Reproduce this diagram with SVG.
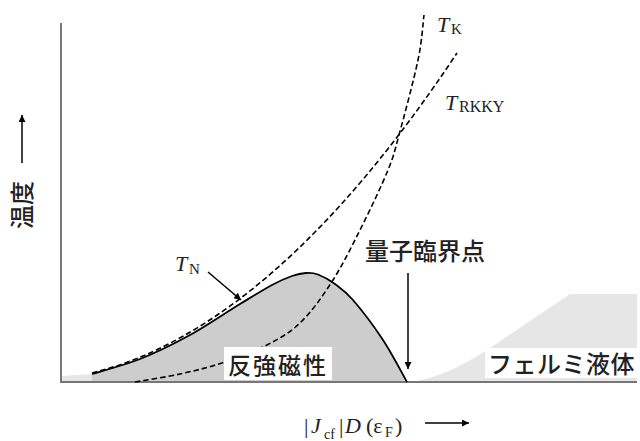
<svg xmlns="http://www.w3.org/2000/svg" width="640" height="441" viewBox="0 0 640 441">
<style>
.axis{stroke:#777;stroke-width:2;fill:none}
.dash{stroke:#000;stroke-width:1.6;fill:none;stroke-dasharray:5.5 3}
.solid{stroke:#000;stroke-width:1.8;fill:none}
.ptr{stroke:#000;stroke-width:1.5;fill:none}
.jp{font-family:"Noto Sans CJK JP","Noto Sans CJK SC",sans-serif;font-weight:500;fill:#222}
.serif{font-family:"Liberation Serif","Times New Roman",serif;fill:#222}
.it{font-style:italic}
</style>
<defs>
<marker id="ah" viewBox="0 0 10 10" refX="10" refY="5" markerUnits="userSpaceOnUse" markerWidth="10" markerHeight="7" orient="auto">
<path d="M0,0 L10,5 L0,10 z" fill="#000"/>
</marker>
</defs>
<rect width="640" height="441" fill="#fff"/>
<g id="regions">
<path id="fermi-left" d="M61,382 L61,376 Q80,375 92,374 L92,382 Z" fill="#e6e6e6"/>
<path id="fermi-right" d="M410,382 Q445,378 490,348 L570,294 L637,294 L637,382 Z" fill="#e6e6e6"/>
<path id="afm-fill" d="M92,382 L92,374 C100,371.5 123.7,365.5 140,359 C156.3,352.5 173.3,344.2 190,335 C206.7,325.8 226.3,312.3 240,304 C253.7,295.7 263.3,289.7 272,285 C280.7,280.3 286.3,278 292,276 C297.7,274 301.7,273.3 306,273 C310.3,272.8 313.2,272.7 318,274.5 C322.8,276.3 329.2,279.75 335,284 C340.8,288.25 345,290.7 353,300 C361,309.3 374,326.3 383,340 C392,353.7 403,375 407,382 Z" fill="#cdcdcd"/>
</g>
<g id="axes">
<line class="axis" x1="61" y1="23" x2="61" y2="382"/>
<line class="axis" x1="60" y1="382" x2="637" y2="382"/>
</g>
<g id="curves">
<path id="TN" class="solid" d="M92,374 C100,371.5 123.7,365.5 140,359 C156.3,352.5 173.3,344.2 190,335 C206.7,325.8 226.3,312.3 240,304 C253.7,295.7 263.3,289.7 272,285 C280.7,280.3 286.3,278 292,276 C297.7,274 301.7,273.3 306,273 C310.3,272.8 313.2,272.7 318,274.5 C322.8,276.3 329.2,279.75 335,284 C340.8,288.25 345,290.7 353,300 C361,309.3 374,326.3 383,340 C392,353.7 403,375 407,382"/>
<path id="TRKKY" class="dash" d="M92,373 Q274.5,327.9 457,53"/>
<path id="TK" class="dash" d="M135,382 C142.5,380.7 165.5,377.2 180,374 C194.5,370.8 208.2,367.5 222,363 C235.8,358.5 250,353.7 263,347 C276,340.3 288.3,334.2 300,323 C311.7,311.8 322.7,296.2 333,280 C343.3,263.8 352.8,244.3 362,226 C371.2,207.7 381.8,185.2 388,170 C394.2,154.8 394,153.3 399,135 C404,116.7 413.8,80 418,60 C422.2,40 423,22.5 424,15"/>
</g>
<g id="label-boxes">
<rect x="224" y="347" width="108" height="33" fill="#fff"/>
<rect x="485" y="348" width="152" height="30" fill="#fff"/>
</g>
<g id="connectors">
<line class="ptr" x1="208" y1="272" x2="241" y2="300" marker-end="url(#ah)"/>
<line class="ptr" x1="408" y1="273" x2="408" y2="369" marker-end="url(#ah)"/>
<line class="ptr" x1="22" y1="163" x2="22" y2="115" marker-end="url(#ah)"/>
<line class="ptr" x1="425" y1="423" x2="469" y2="423" marker-end="url(#ah)"/>
</g>
<g id="label-TK"><text class="serif" font-size="22"><tspan class="it" x="437" y="32">T</tspan><tspan x="451" y="34" font-size="15">K</tspan></text></g>
<g id="label-TRKKY"><text class="serif" font-size="22"><tspan class="it" x="445" y="110">T</tspan><tspan x="459" y="112" font-size="16">RKKY</tspan></text></g>
<g id="label-TN"><text class="serif" font-size="22"><tspan class="it" x="175" y="271">T</tspan><tspan x="189" y="274" font-size="15">N</tspan></text></g>
<g id="label-qcp"><text class="jp" x="365" y="260" font-size="24">量子臨界点</text></g>
<g id="label-afm"><text class="jp" x="228" y="374" font-size="23" letter-spacing="2">反強磁性</text></g>
<g id="label-fl"><text class="jp" x="488" y="373" font-size="24" letter-spacing="0.5">フェルミ液体</text></g>
<g id="label-y"><text class="jp" font-size="24" text-anchor="middle" transform="translate(31,205) rotate(-90)">温度</text></g>
<g id="label-x"><text class="serif" font-size="22"><tspan x="304" y="433">|</tspan><tspan class="it" x="311" y="433">J</tspan><tspan x="324" y="439" font-size="14">cf</tspan><tspan x="339" y="433">|</tspan><tspan class="it" x="345" y="433">D</tspan><tspan x="366" y="433">(ε</tspan><tspan x="385" y="437" font-size="14">F</tspan><tspan x="395" y="433">)</tspan></text></g>
</svg>
